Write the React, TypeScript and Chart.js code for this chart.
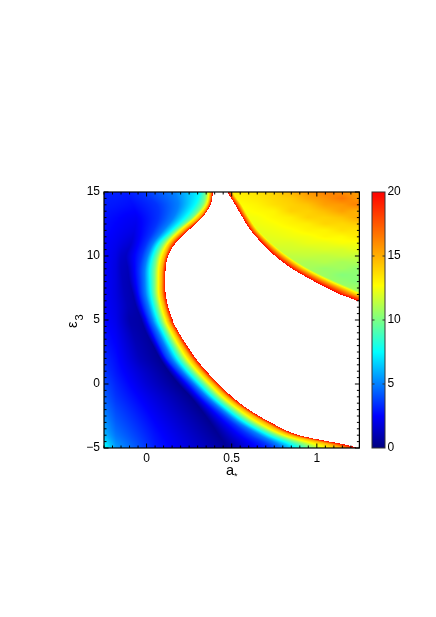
import React, { useEffect, useRef } from "react";
import { Chart, registerables } from "chart.js";

Chart.register(...registerables);

// Rows of the left-hand lobe at each integer epsilon_3.
const epsRows = [15, 14, 13, 12, 11, 10, 9, 8, 7, 6, 5, 4, 3, 2, 1, 0, -1, -2, -3, -4, -5];
// a_* where the field reaches 20 (the edge of the coloured area) and the lower levels.
const edgeA = [0.391, 0.376, 0.328, 0.248, 0.172, 0.128, 0.113, 0.111, 0.113, 0.128, 0.153, 0.193, 0.24, 0.291, 0.354, 0.427, 0.505, 0.604, 0.731, 0.899, 1.24];
const a15 = [0.377, 0.362, 0.31, 0.22, 0.144, 0.109, 0.093, 0.09, 0.091, 0.107, 0.13, 0.17, 0.213, 0.264, 0.325, 0.397, 0.476, 0.575, 0.698, 0.854, 1.147];
const a125 = [0.366, 0.35, 0.285, 0.197, 0.124, 0.085, 0.07, 0.068, 0.07, 0.085, 0.109, 0.146, 0.189, 0.236, 0.298, 0.37, 0.446, 0.541, 0.653, 0.805, 1.04];
const a10 = [0.35, 0.33, 0.27, 0.177, 0.103, 0.064, 0.05, 0.048, 0.05, 0.066, 0.089, 0.125, 0.166, 0.211, 0.274, 0.345, 0.42, 0.512, 0.619, 0.766, 0.96];
const a75 = [0.315, 0.285, 0.226, 0.148, 0.072, 0.036, 0.02, 0.02, 0.025, 0.04, 0.064, 0.099, 0.138, 0.181, 0.241, 0.312, 0.387, 0.477, 0.58, 0.717, 0.88];
const a5 = [0.168, 0.187, 0.158, 0.099, 0.04, 0.007, -0.009, -0.01, -0.005, 0.013, 0.036, 0.072, 0.109, 0.15, 0.211, 0.282, 0.357, 0.444, 0.541, 0.668, 0.8];
const a35 = [-0.019, 0.06, 0.07, 0.04, 0.0, -0.028, -0.042, -0.04, -0.034, -0.015, 0.011, 0.044, 0.079, 0.119, 0.182, 0.255, 0.325, 0.41, 0.502, 0.606, 0.736];
// The dark valley of the field and the values to its left.
const valleyA = [-0.12, -0.08, -0.06, -0.07, -0.09, -0.12, -0.11, -0.1, -0.08, -0.06, -0.03, 0.0, 0.04, 0.08, 0.13, 0.19, 0.26, 0.32, 0.375, 0.425, 0.47];
const valleyV = [3.0, 2.7, 2.3, 2.0, 1.6, 1.3, 1.1, 1.0, 0.9, 0.8, 0.7, 0.6, 0.5, 0.4, 0.35, 0.3, 0.3, 0.3, 0.35, 0.4, 0.5];
const midA = [-0.15, -0.13, -0.12, -0.13, -0.14, -0.15, -0.15, -0.14, -0.13, -0.11, -0.1, -0.08, -0.06, -0.04, -0.02, 0.0, 0.02, 0.03, 0.05, 0.05, 0.05];
const midV = [3.05, 2.8, 2.4, 2.2, 1.9, 1.5, 1.3, 1.2, 1.2, 1.1, 0.9, 1.0, 1.1, 1.2, 1.5, 1.7, 2.0, 2.3, 2.5, 2.8, 3.0];
const nearLeftV = [3.1, 2.9, 2.6, 2.4, 2.2, 2.0, 1.9, 1.9, 1.9, 2.0, 2.1, 2.3, 2.5, 2.7, 2.9, 3.2, 3.5, 3.9, 4.3, 4.8, 5.5];
const leftV = [3.1, 3.0, 2.8, 2.7, 2.5, 2.5, 2.5, 2.5, 2.5, 2.5, 2.6, 2.8, 3.0, 3.3, 3.6, 4.0, 4.4, 4.9, 5.5, 6.2, 7.8];

// The upper-right lobe: its left edge, its edge band and its inner values.
const rightEps = [15, 14, 13, 12, 11, 10, 9, 8, 7, 6.4, 6];
const rightEdgeA = [0.479, 0.522, 0.565, 0.612, 0.678, 0.755, 0.855, 0.985, 1.132, 1.25, 1.33];
const rightBand = [0.035, 0.04, 0.04, 0.045, 0.055, 0.07, 0.085, 0.105, 0.13, 0.14, 0.14];
const innerA = [0.45, 0.55, 0.65, 0.75, 0.85, 0.95, 1.05, 1.15, 1.25];
const innerEps = [15, 14.5, 14, 13.5, 13, 12.5, 12, 11.5, 11, 10.5, 10, 9.5, 9, 8.5, 8, 7.5, 7, 6.5, 6];
const innerV = [
  [13.3, 13.2, 13.5, 14.0, 14.8, 15.6, 16.4, 16.0, 15.5],
  [13.0, 13.0, 13.3, 13.8, 14.2, 15.2, 15.8, 16.6, 15.6],
  [12.8, 12.7, 13.0, 13.6, 14.0, 14.4, 15.4, 15.6, 16.4],
  [12.6, 12.5, 12.8, 13.0, 14.0, 14.0, 14.6, 15.4, 14.8],
  [12.5, 12.4, 12.5, 12.9, 13.2, 14.0, 14.0, 14.4, 15.2],
  [12.4, 12.3, 12.4, 12.6, 13.0, 13.2, 13.9, 13.8, 14.2],
  [12.3, 12.2, 12.2, 12.4, 12.6, 13.0, 13.0, 13.6, 13.4],
  [12.2, 12.1, 12.1, 12.2, 12.4, 12.5, 12.9, 12.8, 13.4],
  [12.0, 12.0, 12.0, 12.0, 12.0, 12.3, 12.3, 12.6, 12.5],
  [11.9, 11.9, 11.9, 11.7, 11.8, 11.8, 12.0, 11.9, 12.3],
  [11.7, 11.7, 11.7, 11.6, 11.4, 11.5, 11.4, 11.6, 11.5],
  [11.5, 11.5, 11.5, 11.4, 11.2, 11.0, 11.2, 10.9, 11.1],
  [11.4, 11.4, 11.4, 11.2, 11.0, 10.9, 10.6, 10.8, 10.4],
  [11.3, 11.3, 11.3, 11.1, 11.0, 10.8, 10.7, 10.2, 10.4],
  [11.2, 11.2, 11.2, 11.0, 11.0, 10.8, 10.6, 10.5, 10.2],
  [11.2, 11.2, 11.2, 11.0, 11.0, 10.8, 10.8, 10.7, 10.7],
  [11.2, 11.2, 11.2, 11.0, 11.0, 11.0, 11.0, 11.0, 11.0],
  [11.2, 11.2, 11.2, 11.2, 11.2, 11.2, 11.2, 11.3, 11.5],
  [11.2, 11.2, 11.2, 11.2, 11.2, 11.2, 11.2, 11.3, 11.5],
];

const xTicks = [0, 0.5, 1];
const xTickLabels = ["0", "0.5", "1"];
const yTicks = [-5, 0, 5, 10, 15];
const yTickLabels = ["\u22125", "0", "5", "10", "15"];
const barTicks = [0, 5, 10, 15, 20];
const barTickLabels = ["0", "5", "10", "15", "20"];
const xRange = [-0.25, 1.25];
const yRange = [-5, 15];
const xMinorStep = 0.05;
const yMinorStep = 0.5;
const fontFamily = "'Liberation Sans', Arial, sans-serif";

function catmull(arr: number[], i: number, t: number) {
  const g = (k: number) => arr[Math.max(0, Math.min(arr.length - 1, k))];
  const p0 = g(i - 1), p1 = g(i), p2 = g(i + 1), p3 = g(i + 2);
  return 0.5 * (2 * p1 + (p2 - p0) * t + (2 * p0 - 5 * p1 + 4 * p2 - p3) * t * t + (3 * p1 - p0 - 3 * p2 + p3) * t * t * t);
}

function locate(rows: number[], e: number) {
  let i = 0;
  while (i < rows.length - 2 && e < rows[i + 1]) i++;
  return { i, t: (rows[i] - e) / (rows[i] - rows[i + 1]) };
}

function rowStops(e: number) {
  const { i, t } = locate(epsRows, e);
  const c = (arr: number[]) => catmull(arr, i, t);
  const raw: [number, number][] = [
    [-0.25, c(leftV)],
    [-0.18, c(nearLeftV)],
    [c(midA), c(midV)],
    [c(valleyA), c(valleyV)],
    [c(a35), 3.5],
    [c(a5), 5],
    [c(a75), 7.5],
    [c(a10), 10],
    [c(a125), 12.5],
    [c(a15), 15],
    [c(edgeA), 20],
  ];
  for (let k = 1; k < raw.length; k++) raw[k][0] = Math.max(raw[k][0], raw[k - 1][0] + 1e-4);
  return raw;
}

function innerValue(a: number, e: number) {
  const { i, t } = locate(innerEps, e);
  let j = 0;
  while (j < innerA.length - 2 && a > innerA[j + 1]) j++;
  const u = Math.max(0, Math.min(1, (a - innerA[j]) / (innerA[j + 1] - innerA[j])));
  const top = innerV[i][j] * (1 - u) + innerV[i][j + 1] * u;
  const bot = innerV[i + 1][j] * (1 - u) + innerV[i + 1][j + 1] * u;
  return top * (1 - t) + bot * t;
}

function buildCells(nx: number, ny: number) {
  const cells: { x: number; y: number; v: number }[] = [];
  const dx = (xRange[1] - xRange[0]) / nx;
  const dy = (yRange[1] - yRange[0]) / ny;
  for (let r = 0; r < ny; r++) {
    const e = yRange[1] - (r + 0.5) * dy;
    const stops = rowStops(e);
    const right = e >= 6 ? locate(rightEps, e) : null;
    const rEdge = right ? catmull(rightEdgeA, right.i, right.t) : Infinity;
    const rBand = right ? catmull(rightBand, right.i, right.t) : 0.1;
    for (let c = 0; c < nx; c++) {
      const a = xRange[0] + (c + 0.5) * dx;
      let v: number | null = null;
      if (a <= stops[stops.length - 1][0]) {
        let k = 0;
        while (k < stops.length - 2 && a > stops[k + 1][0]) k++;
        const u = Math.max(0, (a - stops[k][0]) / (stops[k + 1][0] - stops[k][0]));
        v = stops[k][1] + (stops[k + 1][1] - stops[k][1]) * u;
      } else if (a >= rEdge) {
        const band = 20 - ((a - rEdge) / rBand) * 8;
        v = Math.max(band, innerValue(a, e));
      }
      if (v !== null) cells.push({ x: a, y: e, v });
    }
  }
  return cells;
}

function colour(v: number) {
  const clamp = (n: number) => Math.round(255 * Math.max(0, Math.min(1, n)));
  let r = 0, g = 0, b = 0;
  if (v < 2.5) { b = 0.5 + (v / 2.5) * 0.5; }
  else if (v < 7.5) { g = (v - 2.5) / 5; b = 1; }
  else if (v < 12.7) { const t = (v - 7.5) / 5.2; r = t; g = 1; b = 1 - t; }
  else { r = 1; g = 1 - (v - 12.7) / 7.3; }
  return `rgb(${clamp(r)},${clamp(g)},${clamp(b)})`;
}

const heatPlugin = {
  id: "heat",
  beforeDatasetsDraw(chart: any) {
    const { ctx, scales, chartArea } = chart;
    const { x, y } = scales;
    const pts = chart.data.datasets[0].data as { x: number; y: number; v: number }[];
    const hx = (xRange[1] - xRange[0]) / (2 * 255);
    const hy = (yRange[1] - yRange[0]) / (2 * 255);
    const off = document.createElement("canvas");
    off.width = chart.width;
    off.height = chart.height;
    const oc = off.getContext("2d") as CanvasRenderingContext2D;
    for (const p of pts) {
      const x0 = Math.round(x.getPixelForValue(p.x - hx));
      const x1 = Math.round(x.getPixelForValue(p.x + hx));
      const y0 = Math.round(y.getPixelForValue(p.y + hy));
      const y1 = Math.round(y.getPixelForValue(p.y - hy));
      oc.fillStyle = colour(p.v);
      oc.fillRect(x0, y0, Math.max(1, x1 - x0), Math.max(1, y1 - y0));
    }
    ctx.save();
    ctx.beginPath();
    ctx.rect(chartArea.left, chartArea.top, chartArea.width, chartArea.height);
    ctx.clip();
    ctx.filter = "blur(0.5px)";
    ctx.drawImage(off, 0, 0);
    ctx.restore();
  },
  afterDatasetsDraw(chart: any) {
    const { ctx, scales, chartArea: ca } = chart;
    const { x, y, cb } = scales;
    ctx.save();
    // Frame of the main plot
    ctx.strokeStyle = "#000";
    ctx.lineWidth = 1.2;
    ctx.strokeRect(ca.left, ca.top, ca.width, ca.height);
    const tick = (x0: number, y0: number, x1: number, y1: number, w: number) => {
      ctx.lineWidth = w;
      ctx.beginPath();
      ctx.moveTo(x0, y0);
      ctx.lineTo(x1, y1);
      ctx.stroke();
    };
    const nx = Math.round((xRange[1] - xRange[0]) / xMinorStep);
    for (let i = 0; i <= nx; i++) {
      const val = xRange[0] + i * xMinorStep;
      const major = xTicks.some((t) => Math.abs(t - val) < 1e-6);
      const px = x.getPixelForValue(val);
      const len = major ? 4.5 : 2.5;
      tick(px, ca.bottom, px, ca.bottom - len, 1);
      tick(px, ca.top, px, ca.top + len, 1);
    }
    const ny = Math.round((yRange[1] - yRange[0]) / yMinorStep);
    for (let i = 0; i <= ny; i++) {
      const val = yRange[0] + i * yMinorStep;
      const major = yTicks.some((t) => Math.abs(t - val) < 1e-6);
      const py = y.getPixelForValue(val);
      const len = major ? 4.5 : 2.5;
      tick(ca.left, py, ca.left + len, py, 1);
      tick(ca.right, py, ca.right - len, py, 1);
    }
    // Colour bar
    const bl = Math.round(ca.right + 12.5);
    const br = bl + 13;
    for (let py = Math.round(cb.top); py < Math.round(cb.bottom); py++) {
      ctx.fillStyle = colour(cb.getValueForPixel(py + 0.5));
      ctx.fillRect(bl, py, br - bl, 1);
    }
    ctx.strokeStyle = "#333";
    ctx.lineWidth = 1;
    ctx.strokeRect(bl, cb.top, br - bl, cb.bottom - cb.top);
    for (const t of barTicks.slice(1, -1)) {
      const py = cb.getPixelForValue(t);
      tick(bl, py, bl + 2.5, py, 1);
      tick(br, py, br - 2.5, py, 1);
    }
    // Axis titles: a with a low asterisk, epsilon with a subscript 3
    const left = ca.left;
    const bottom = ca.bottom;
    ctx.fillStyle = "#000";
    ctx.textBaseline = "alphabetic";
    ctx.textAlign = "left";
    ctx.font = `14.5px ${fontFamily}`;
    ctx.fillText("a", left + 122, bottom + 27);
    ctx.font = `9px ${fontFamily}`;
    ctx.fillText("*", left + 130, bottom + 31);
    ctx.translate(left - 27, bottom - 120);
    ctx.rotate(-Math.PI / 2);
    ctx.font = `14.5px ${fontFamily}`;
    ctx.fillText("\u03b5", 0, 0);
    ctx.font = `11px ${fontFamily}`;
    ctx.fillText("3", 7.5, 5.5);
    ctx.restore();
  },
};

function setTicks(values: number[]) {
  return (s: any) => {
    s.ticks = values.map((value) => ({ value }));
  };
}

function labelFor(values: number[], labels: string[]) {
  return (v: any) => labels[values.indexOf(Number(v))] ?? "";
}

export default function App() {
  const ref = useRef<HTMLCanvasElement>(null);
  useEffect(() => {
    const font = { family: fontFamily, size: 12 };
    const grid = { display: false, drawTicks: false, tickLength: 0 };
    const chart = new Chart(ref.current as HTMLCanvasElement, {
      type: "scatter",
      data: {
        datasets: [
          { data: buildCells(255, 255) as any, pointRadius: 0, showLine: false, yAxisID: "y", xAxisID: "x" },
        ],
      },
      options: {
        responsive: false,
        animation: false,
        layout: { padding: { top: 192, left: 0, right: 0, bottom: 0 } },
        plugins: { legend: { display: false }, tooltip: { enabled: false } },
        events: [],
        scales: {
          x: {
            type: "linear",
            min: xRange[0],
            max: xRange[1],
            afterBuildTicks: setTicks(xTicks),
            afterFit: (s: any) => { s.height = 169; },
            grid,
            border: { display: false },
            ticks: { color: "#000", font, padding: 3, maxRotation: 0, autoSkip: false, callback: labelFor(xTicks, xTickLabels) },
          },
          y: {
            type: "linear",
            position: "left",
            min: yRange[0],
            max: yRange[1],
            afterBuildTicks: setTicks(yTicks),
            afterFit: (s: any) => { s.width = 104; },
            grid,
            border: { display: false },
            ticks: { color: "#000", font, padding: 4, autoSkip: false, callback: labelFor(yTicks, yTickLabels) },
          },
          cb: {
            type: "linear",
            position: "right",
            min: barTicks[0],
            max: barTicks[barTicks.length - 1],
            afterBuildTicks: setTicks(barTicks),
            afterFit: (s: any) => { s.width = 76.6; },
            grid,
            border: { display: false },
            ticks: { color: "#000", font, padding: 28, autoSkip: false, callback: labelFor(barTicks, barTickLabels) },
          },
        },
      },
      plugins: [heatPlugin],
    } as any);
    return () => chart.destroy();
  }, []);
  return (
    <canvas
      ref={ref}
      width={436}
      height={617}
      style={{ position: "absolute", left: 0, top: 0, width: 436, height: 617 }}
    />
  );
}
